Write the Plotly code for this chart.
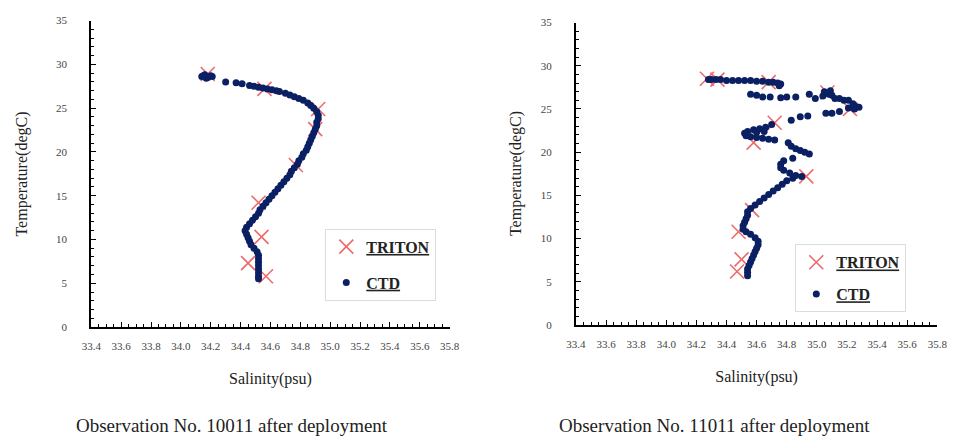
import plotly.graph_objects as go

# ---- Observation No. 10011: CTD cast (salinity psu, temperature degC) ----
ctd1_sal = [34.14, 34.16, 34.18, 34.20, 34.17, 34.21, 34.15,
            34.30, 34.37, 34.41, 34.46, 34.49, 34.52, 34.55, 34.58, 34.61, 34.64,
            34.66, 34.70, 34.73, 34.76, 34.79, 34.82, 34.85, 34.87, 34.89, 34.91,
            34.92, 34.92, 34.91, 34.91, 34.90, 34.89, 34.88, 34.87, 34.86, 34.85,
            34.84, 34.82, 34.81, 34.79, 34.78, 34.76, 34.74, 34.73, 34.71, 34.69,
            34.67, 34.65, 34.63, 34.61, 34.59, 34.57, 34.55, 34.53, 34.52, 34.50,
            34.48, 34.46, 34.44, 34.43, 34.44, 34.45, 34.46, 34.47, 34.49, 34.51,
            34.52, 34.52, 34.52, 34.52, 34.52, 34.52, 34.52, 34.52]
ctd1_temp = [28.6, 28.8, 28.5, 28.7, 28.4, 28.6, 28.7,
             28.0, 27.9, 27.8, 27.6, 27.5, 27.4, 27.3, 27.2, 27.1, 27.0,
             26.9, 26.7, 26.5, 26.3, 26.1, 25.9, 25.6, 25.3, 25.0, 24.6,
             24.2, 23.8, 23.4, 23.0, 22.6, 22.2, 21.8, 21.4, 21.0, 20.6,
             20.2, 19.8, 19.4, 19.0, 18.6, 18.2, 17.8, 17.4, 17.0, 16.6,
             16.2, 15.8, 15.4, 15.0, 14.6, 14.2, 13.8, 13.4, 13.0, 12.6,
             12.2, 11.8, 11.4, 11.0, 10.6, 10.2, 9.8, 9.4, 9.0, 8.6,
             8.2, 7.8, 7.4, 7.0, 6.6, 6.2, 5.8, 5.5]

# ---- Observation No. 10011: TRITON buoy sensors ----
tri1_sal = [34.18, 34.56, 34.92, 34.90, 34.77, 34.52, 34.54, 34.45, 34.57]
tri1_temp = [28.9, 27.2, 24.9, 22.6, 18.5, 14.2, 10.3, 7.3, 5.8]

# ---- Observation No. 11011: CTD cast ----
ctd2_sal = [34.28, 34.30, 34.33, 34.36, 34.40, 34.44, 34.48, 34.52, 34.56, 34.60,
            34.64, 34.68, 34.71, 34.74, 34.76, 34.75,
            34.56, 34.60, 34.64, 34.69, 34.76, 34.80, 34.86, 34.95, 34.99, 35.04,
            35.05, 35.08, 35.09, 35.10, 35.12, 35.15, 35.18, 35.21, 35.24, 35.26,
            35.28, 35.25, 35.21, 35.15, 35.10, 35.06,
            34.94, 34.89, 34.83,
            34.70, 34.66, 34.62, 34.58, 34.54, 34.52, 34.53, 34.56, 34.60, 34.64,
            34.68, 34.72, 34.60, 34.65,
            34.81, 34.83, 34.86, 34.89, 34.92, 34.95,
            34.84, 34.78, 34.76, 34.76, 34.78, 34.82, 34.86, 34.90,
            34.84, 34.80, 34.77, 34.74, 34.71, 34.68, 34.65, 34.62, 34.59, 34.56,
            34.54, 34.54, 34.53, 34.52, 34.51, 34.51, 34.53, 34.56, 34.59, 34.61,
            34.61, 34.60, 34.59, 34.58, 34.57, 34.56, 34.55, 34.54, 34.54, 34.54]
ctd2_temp = [28.4, 28.4, 28.4, 28.4, 28.3, 28.3, 28.3, 28.3, 28.3, 28.2,
             28.2, 28.1, 28.1, 28.0, 27.9, 27.7,
             26.7, 26.6, 26.4, 26.4, 26.3, 26.4, 26.4, 26.7, 26.2, 26.5,
             27.0, 26.7, 27.1, 26.6, 26.2, 26.2, 26.0, 26.0, 25.6, 25.3,
             25.2, 25.0, 25.1, 24.7, 24.5, 24.5,
             24.2, 24.1, 23.7,
             23.2, 22.9, 22.7, 22.6, 22.4, 22.2, 21.9, 21.8, 21.7, 21.6,
             21.5, 21.4, 22.3, 22.4,
             21.1, 20.7, 20.4, 20.2, 20.0, 19.8,
             19.3, 19.0, 18.6, 18.2, 17.9, 17.6, 17.3, 17.2,
             17.0, 16.7, 16.3, 15.9, 15.5, 15.1, 14.7, 14.3, 13.9, 13.5,
             13.1, 12.7, 12.3, 11.9, 11.5, 11.1, 10.8, 10.5, 10.1, 9.7,
             9.3, 8.9, 8.5, 8.1, 7.7, 7.3, 6.9, 6.5, 6.1, 5.7]

# ---- Observation No. 11011: TRITON buoy sensors ----
tri2_sal = [34.27, 34.34, 34.68, 35.07, 35.22, 34.72, 34.58, 34.93, 34.57, 34.48, 34.50, 34.47]
tri2_temp = [28.5, 28.4, 28.1, 26.9, 25.0, 23.4, 21.1, 17.2, 13.3, 10.8, 7.6, 6.2]

sal_ticks = ["33.4", "33.6", "33.8", "34.0", "34.2", "34.4", "34.6",
             "34.8", "35.0", "35.2", "35.4", "35.6", "35.8"]
temp_ticks = [0, 5, 10, 15, 20, 25, 30, 35]

captions = ["Observation No. 10011 after deployment",
            "Observation No. 11011 after deployment"]

W, H = 960, 441
SERIF = "Liberation Serif"
NAVY = "#0b1f63"
RED = "#ef6a6a"


def fx(p):
    return p / W


def fy(p):
    return 1 - p / H


fig = go.Figure()

panels = [
    (tri1_sal, tri1_temp, ctd1_sal, ctd1_temp, "x", "y", "legend"),
    (tri2_sal, tri2_temp, ctd2_sal, ctd2_temp, "x2", "y2", "legend2"),
]
for ts, tt, cs, ct, xa, ya, lg in panels:
    fig.add_trace(go.Scatter(
        x=ts, y=tt, mode="markers", name="<u>TRITON</u>",
        xaxis=xa, yaxis=ya, legend=lg, legendgroup=lg + "a",
        marker=dict(symbol="x-thin", size=14, color=RED,
                    line=dict(width=1.6, color=RED)),
    ))
    fig.add_trace(go.Scatter(
        x=cs, y=ct, mode="markers", name="<u>CTD</u>",
        xaxis=xa, yaxis=ya, legend=lg, legendgroup=lg + "b",
        marker=dict(symbol="circle", size=7, color=NAVY),
    ))

axis_common = dict(
    showline=True, linecolor="black", linewidth=2, mirror=False,
    showgrid=False, zeroline=False,
    ticks="inside", ticklen=5, tickcolor="black", tickwidth=1,
    tickfont=dict(family=SERIF, size=11, color="#444"),
)

x_common = dict(axis_common, range=[33.4, 35.8], tickmode="array",
                tickvals=[float(t) for t in sal_ticks], ticktext=sal_ticks,
                minor=dict(dtick=0.05, tick0=33.4, ticks="inside", ticklen=3,
                           tickcolor="black"),
                ticklabelstandoff=8,
                title=dict(text="Salinity(psu)", standoff=22,
                           font=dict(family=SERIF, size=16, color="#222")))
y_common = dict(axis_common, range=[0, 35], tickmode="array",
                tickvals=temp_ticks,
                minor=dict(dtick=1, tick0=0, ticks="inside", ticklen=3,
                           tickcolor="black"),
                ticklabelstandoff=20)

legend_common = dict(
    bgcolor="white", bordercolor="#dcdcdc", borderwidth=1,
    font=dict(family=SERIF, size=16, color="#222", weight="bold"),
    tracegroupgap=12, itemwidth=30, traceorder="grouped",
    xanchor="left", yanchor="top",
)

fig.update_layout(
    width=W, height=H,
    margin=dict(l=0, r=0, t=0, b=0),
    paper_bgcolor="white", plot_bgcolor="white",
    font=dict(family=SERIF, color="#222"),
    showlegend=True,
    xaxis=dict(x_common, domain=[fx(83), fx(449)], anchor="y"),
    yaxis=dict(y_common, domain=[fy(330), fy(15)], anchor="x"),
    xaxis2=dict(x_common, domain=[fx(578), fx(947)], anchor="y2"),
    yaxis2=dict(y_common, domain=[fy(328), fy(17)], anchor="x2"),
    legend=dict(legend_common, x=fx(322), y=fy(229)),
    legend2=dict(legend_common, x=fx(802), y=fy(245), tracegroupgap=8),
)

# Vertical axis titles
for xpos, y0, y1 in [(12, 15, 330), (517, 17, 328)]:
    fig.add_annotation(
        text="Temperature(degC)", textangle=-90, showarrow=False,
        xref="paper", yref="paper", x=fx(xpos), y=fy((y0 + y1) / 2),
        xanchor="center", yanchor="middle",
        font=dict(family=SERIF, size=16, color="#222"),
    )

# Panel captions
for xpos, text in zip([227, 719], captions):
    fig.add_annotation(
        text=text, showarrow=False, xref="paper", yref="paper",
        x=fx(xpos), y=fy(431), xanchor="center", yanchor="middle",
        font=dict(family=SERIF, size=19, color="#222"),
    )

fig.write_html("out.html")
